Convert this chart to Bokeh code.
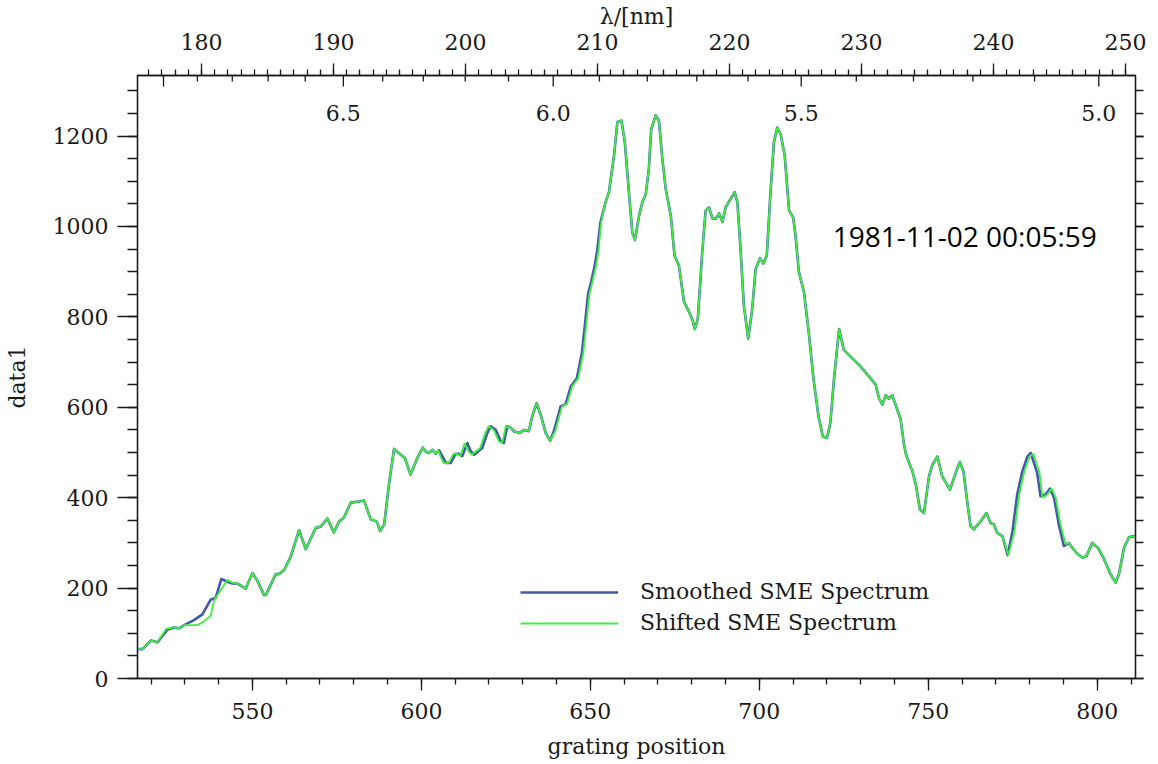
from bokeh.plotting import figure
from bokeh.models import (Range1d, LinearAxis, SingleIntervalTicker, Legend, LegendItem,
                          CustomJSTickFormatter)
from bokeh.core.properties import value
from bokeh.embed import file_html
from bokeh.resources import INLINE

# ---------------- data ----------------
grating_smoothed = [
    516.0, 517.5, 520.0, 521.9, 524.8, 526.8, 528.3, 529.8, 532.7, 535.2,
    537.7, 539.1, 540.8, 542.6, 544.1, 545.6, 548.0, 550.0, 551.5, 553.4,
    554.0, 556.9, 557.9, 559.4, 561.3, 563.8, 565.8, 568.7, 570.2, 572.2,
    574.1, 575.6, 577.1, 579.1, 582.0, 583.0, 585.0, 586.8, 587.8, 589.0,
    590.4, 591.9, 593.9, 595.1, 596.8, 598.8, 600.4, 601.3, 602.2, 603.3,
    604.2, 605.2, 606.2, 607.2, 608.7, 610.1, 611.1, 612.1, 613.6, 614.6,
    615.6, 618.0, 619.5, 620.5, 622.0, 623.5, 624.4, 625.4, 626.4, 627.4,
    628.9, 630.4, 631.8, 632.8, 634.1, 635.3, 636.8, 638.1, 639.2, 641.2,
    642.7, 644.2, 646.0, 647.5, 648.5, 649.3, 650.3, 651.2, 652.0, 653.0,
    654.5, 655.5, 657.0, 658.0, 659.2, 660.2, 661.4, 662.4, 663.2, 664.4,
    665.4, 666.4, 667.3, 668.0, 669.3, 670.3, 671.3, 672.3, 673.8, 674.9,
    676.2, 677.7, 679.2, 680.2, 680.9, 681.8, 683.1, 684.1, 685.1, 686.1,
    687.1, 688.1, 689.1, 690.0, 691.5, 692.7, 693.5, 694.5, 695.4, 696.7,
    697.9, 698.9, 700.2, 701.2, 702.2, 703.3, 704.3, 705.3, 706.3, 707.5,
    708.8, 710.0, 710.7, 711.7, 713.2, 714.7, 716.0, 717.5, 718.8, 720.0,
    721.0, 722.1, 723.6, 725.0, 727.0, 730.0, 732.9, 734.4, 735.4, 736.4,
    737.4, 738.3, 739.3, 740.3, 741.8, 742.8, 743.5, 745.3, 746.3, 747.5,
    748.7, 750.2, 751.2, 752.7, 754.1, 756.4, 758.1, 759.3, 760.4, 761.5,
    762.5, 763.5, 765.5, 767.2, 768.4, 769.4, 770.4, 771.9, 773.5, 774.9,
    776.3, 777.8, 779.3, 780.3, 782.2, 783.2, 784.7, 786.0, 787.2, 788.6,
    790.1, 791.6, 792.6, 794.1, 795.6, 796.8, 798.5, 800.2, 802.0, 803.9,
    805.4, 806.4, 807.9, 809.4, 811.3,
]
counts_smoothed = [
    65, 65, 84, 80, 108, 113, 111, 118, 129, 142,
    175, 178, 220, 214, 210, 210, 199, 233, 216, 185,
    185, 231, 231, 240, 269, 328, 286, 333, 336, 354,
    323, 347, 356, 389, 392, 394, 352, 347, 326, 341,
    429, 508, 495, 488, 451, 488, 511, 502, 499, 506,
    497, 505, 492, 477, 477, 497, 497, 492, 521, 503,
    495, 510, 543, 558, 550, 525, 521, 558, 555, 547,
    543, 550, 547, 580, 609, 583, 543, 526, 547, 602,
    607, 646, 664, 720, 790, 850, 880, 910, 945, 1010,
    1054, 1076, 1157, 1231, 1234, 1186, 1076, 987, 970, 1024,
    1054, 1072, 1127, 1215, 1246, 1234, 1149, 1083, 1024, 936,
    914, 833, 811, 793, 773, 796, 943, 1035, 1042, 1018,
    1017, 1029, 1010, 1042, 1061, 1076, 1054, 943, 826, 752,
    818, 906, 930, 918, 936, 1076, 1186, 1219, 1204, 1157,
    1035, 1020, 980, 899, 855, 760, 664, 580, 535, 532,
    565, 664, 773, 727, 712, 690, 664, 650, 620, 606,
    627, 619, 627, 606, 573, 517, 493, 458, 429, 374,
    366, 447, 473, 491, 447, 418, 455, 479, 458, 392,
    337, 330, 348, 366, 344, 341, 322, 315, 273, 326,
    407, 458, 491, 499, 455, 403, 407, 420, 400, 341,
    293, 300, 289, 276, 267, 271, 300, 289, 264, 231,
    212, 231, 289, 313, 315,
]

grating_shifted = [
    516.0, 517.5, 520.0, 521.9, 524.5, 526.8, 528.3, 529.8, 533.7, 535.2,
    537.7, 538.6, 540.6, 542.6, 544.1, 545.6, 548.0, 550.0, 551.5, 553.4,
    554.0, 556.9, 557.9, 559.4, 561.3, 563.8, 565.8, 568.7, 570.2, 572.2,
    574.1, 575.6, 577.1, 579.1, 582.0, 583.0, 585.0, 586.8, 587.8, 589.0,
    590.4, 591.9, 593.9, 595.1, 596.8, 598.8, 600.4, 601.3, 602.2, 603.3,
    604.2, 605.0, 605.6, 606.6, 608.1, 609.5, 610.5, 611.5, 612.8, 613.9,
    614.9, 617.4, 618.9, 619.9, 621.4, 622.9, 623.9, 625.0, 626.4, 627.4,
    628.9, 630.4, 631.8, 632.8, 634.1, 635.3, 636.8, 638.1, 639.6, 641.6,
    643.1, 644.6, 646.4, 647.9, 648.9, 649.7, 650.7, 651.6, 652.4, 653.2,
    654.5, 655.5, 657.0, 658.0, 659.2, 660.2, 661.4, 662.4, 663.2, 664.4,
    665.4, 666.4, 667.3, 668.0, 669.3, 670.3, 671.3, 672.3, 673.8, 674.9,
    676.2, 677.7, 679.2, 680.2, 680.9, 681.8, 683.1, 684.1, 685.1, 686.1,
    687.1, 688.1, 689.1, 690.0, 691.5, 692.7, 693.5, 694.5, 695.4, 696.7,
    697.9, 698.9, 700.2, 701.2, 702.2, 703.3, 704.3, 705.3, 706.3, 707.5,
    708.8, 710.0, 710.7, 711.7, 713.2, 714.7, 716.0, 717.5, 718.8, 720.0,
    721.0, 722.1, 723.6, 725.0, 727.0, 730.0, 732.9, 734.4, 735.4, 736.4,
    737.4, 738.3, 739.3, 740.3, 741.8, 742.8, 743.5, 745.3, 746.3, 747.5,
    748.7, 750.2, 751.2, 752.7, 754.1, 756.4, 758.1, 759.3, 760.4, 761.5,
    762.5, 763.5, 765.5, 767.2, 768.4, 769.4, 770.4, 771.9, 773.7, 775.5,
    776.9, 778.4, 780.0, 781.1, 782.9, 783.8, 785.2, 786.5, 787.7, 789.1,
    790.6, 791.6, 792.6, 794.1, 795.6, 796.8, 798.5, 800.2, 802.0, 803.9,
    805.4, 806.4, 807.9, 809.4, 811.3,
]
counts_shifted = [
    65, 65, 84, 80, 110, 113, 111, 118, 118, 124,
    139, 172, 195, 218, 212, 210, 199, 233, 216, 185,
    185, 231, 231, 240, 269, 328, 286, 333, 336, 354,
    323, 347, 356, 389, 392, 394, 352, 347, 326, 341,
    429, 508, 495, 488, 451, 488, 511, 502, 499, 506,
    497, 505, 492, 477, 477, 497, 497, 492, 520, 503,
    495, 510, 543, 558, 550, 525, 521, 558, 555, 547,
    543, 550, 547, 580, 609, 583, 543, 526, 547, 602,
    607, 646, 664, 720, 790, 850, 880, 910, 945, 1010,
    1054, 1076, 1157, 1231, 1234, 1186, 1076, 987, 970, 1024,
    1054, 1072, 1127, 1215, 1246, 1234, 1149, 1083, 1024, 936,
    914, 833, 811, 793, 773, 796, 943, 1035, 1042, 1018,
    1017, 1029, 1010, 1042, 1061, 1076, 1054, 943, 826, 752,
    818, 906, 930, 918, 936, 1076, 1186, 1219, 1204, 1157,
    1035, 1020, 980, 899, 855, 760, 664, 580, 535, 532,
    565, 664, 773, 727, 712, 690, 664, 650, 620, 606,
    627, 619, 627, 606, 573, 517, 493, 458, 429, 374,
    366, 447, 473, 491, 447, 418, 455, 479, 458, 392,
    337, 330, 348, 366, 344, 341, 322, 315, 273, 326,
    407, 458, 491, 497, 455, 400, 407, 420, 400, 341,
    297, 300, 289, 276, 267, 271, 300, 289, 264, 231,
    212, 231, 289, 313, 315,
]

ev_major = [5.0, 5.5, 6.0, 6.5, 7.0]
ev_labelled = [5.0, 5.5, 6.0, 6.5]
ev_labelled_text = ["5.0", "5.5", "6.0", "6.5"]
ev_minor = [5.1, 5.2, 5.3, 5.4, 5.6, 5.7, 5.8, 5.9, 6.1, 6.2, 6.3, 6.4,
            6.6, 6.7, 6.8, 6.9]
HC_EV_NM = 1239.84

series_names = ["Smoothed SME Spectrum", "Shifted SME Spectrum"]
timestamp_text = "1981-11-02 00:05:59"
timestamp_pos = (721.7, 978)

# ---------------- figure ----------------
SERIF = "DejaVu Serif"
FS = "22px"
INK = "#1a1a1a"
BLUE = "#4258a8"
GREEN = "#3cf03c"

X0, X1 = 516.0, 811.3
Y0, Y1 = 0, 1334
LAM0, LAM1 = 175.15, 250.75

W, H = 1156, 762
p = figure(width=W, height=H, output_backend="svg", toolbar_location=None,
           x_range=Range1d(X0, X1), y_range=Range1d(Y0, Y1))
p.extra_x_ranges = {"lam": Range1d(LAM0, LAM1)}
p.min_border_left = 137
p.min_border_top = 73
p.min_border_right = W - 1135
p.min_border_bottom = H - 678
p.grid.visible = False
p.outline_line_color = INK
p.outline_line_width = 1.3
p.background_fill_color = "white"
p.border_fill_color = "white"


def style_axis(ax, major_out, minor_out):
    ax.axis_line_color = INK
    ax.axis_line_width = 1.3
    ax.major_tick_line_color = INK
    ax.minor_tick_line_color = INK
    ax.major_tick_line_width = 1.3
    ax.minor_tick_line_width = 1.3
    ax.major_tick_in = 0
    ax.minor_tick_in = 0
    ax.major_tick_out = major_out
    ax.minor_tick_out = minor_out
    ax.major_label_text_font = SERIF
    ax.major_label_text_font_size = FS
    ax.major_label_text_color = INK
    ax.axis_label_text_font = SERIF
    ax.axis_label_text_font_size = FS
    ax.axis_label_text_font_style = "normal"
    ax.axis_label_text_color = INK


xb = p.xaxis[0]
xb.ticker = SingleIntervalTicker(interval=50, num_minor_ticks=5)
style_axis(xb, 12, 6)
xb.axis_label = "grating position"
xb.major_label_standoff = 12
xb.axis_label_standoff = 12

yl = p.yaxis[0]
yl.ticker = SingleIntervalTicker(interval=200, num_minor_ticks=4)
style_axis(yl, 20, 10)
yl.axis_label = "data1"
yl.major_label_standoff = 9
yl.axis_label_standoff = 20

yr = LinearAxis(ticker=SingleIntervalTicker(interval=200, num_minor_ticks=4),
                formatter=CustomJSTickFormatter(code="return ''"))
style_axis(yr, 8, 8)
yr.major_label_text_color = None
yr.major_label_standoff = 0
p.add_layout(yr, "right")

xt = LinearAxis(x_range_name="lam", ticker=SingleIntervalTicker(interval=10, num_minor_ticks=10))
style_axis(xt, 12, 6)
xt.axis_label = "λ/[nm]"
xt.major_label_standoff = 14
xt.axis_label_standoff = 2
p.add_layout(xt, "above")

# photon-energy ticks (eV) hanging from the top axis
px_per_unit = 605.5 / (Y1 - Y0)
major_len = 11 / px_per_unit
minor_len = 6 / px_per_unit
p.segment(x0=[HC_EV_NM / e for e in ev_major], x1=[HC_EV_NM / e for e in ev_major],
          y0=[Y1] * len(ev_major), y1=[Y1 - major_len] * len(ev_major),
          x_range_name="lam", line_color=INK, line_width=1.3)
p.segment(x0=[HC_EV_NM / e for e in ev_minor], x1=[HC_EV_NM / e for e in ev_minor],
          y0=[Y1] * len(ev_minor), y1=[Y1 - minor_len] * len(ev_minor),
          x_range_name="lam", line_color=INK, line_width=1.3)
p.text(x=[HC_EV_NM / e for e in ev_labelled], y=[1252] * len(ev_labelled),
       text=ev_labelled_text, x_range_name="lam",
       text_font=value(SERIF), text_font_size=FS, text_color=INK,
       text_align="center", text_baseline="middle")

# spectra
r_s = p.line(grating_smoothed, counts_smoothed, line_color=BLUE, line_width=2.6,
             line_join="round")
r_g = p.line(grating_shifted, counts_shifted, line_color=GREEN, line_width=1.8,
             line_join="round")

legend = Legend(items=[LegendItem(label=series_names[0], renderers=[r_s]),
                       LegendItem(label=series_names[1], renderers=[r_g])],
                location=(383, 43))
legend.background_fill_alpha = 0
legend.border_line_color = None
legend.padding = 0
legend.margin = 0
legend.spacing = 6
legend.glyph_width = 98
legend.glyph_height = 24
legend.label_height = 24
legend.label_standoff = 22
legend.label_text_font = SERIF
legend.label_text_font_size = FS
legend.label_text_color = INK
p.add_layout(legend)

p.text(x=[timestamp_pos[0]], y=[timestamp_pos[1]], text=[timestamp_text],
       text_font=value("Open Sans"), text_font_size="28px", text_color="black",
       text_align="left", text_baseline="middle")

open("out.html", "w").write(file_html(p, INLINE))
